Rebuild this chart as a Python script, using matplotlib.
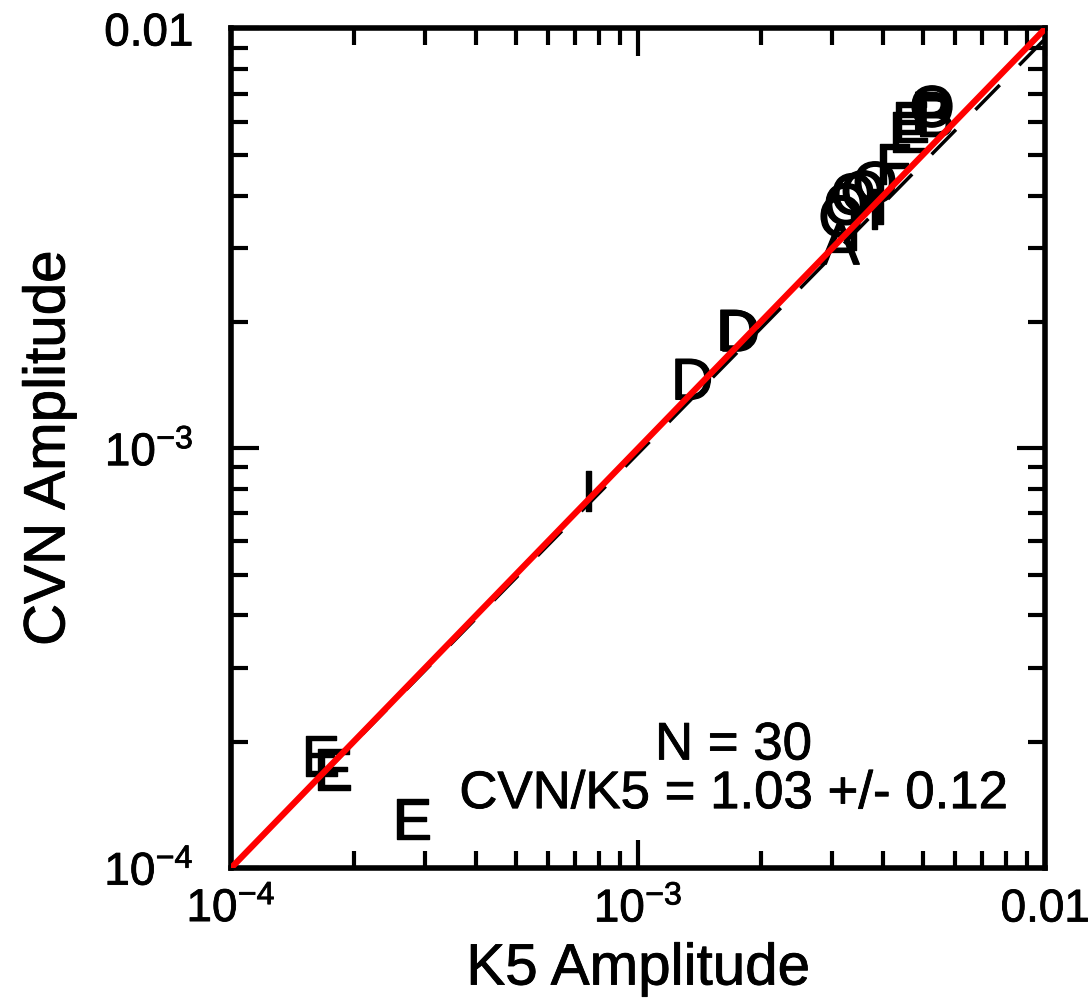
import numpy as np
import matplotlib
matplotlib.use('Agg')
from matplotlib import pyplot as plt
from matplotlib import patheffects as pe
from matplotlib.ticker import FixedLocator, FixedFormatter, LogLocator, NullFormatter

plt.rcParams['font.family'] = ['Liberation Sans', 'DejaVu Sans']
plt.rcParams['mathtext.fontset'] = 'custom'
plt.rcParams['mathtext.rm'] = 'Liberation Sans'
plt.rcParams['mathtext.it'] = 'Liberation Sans'

# symbol letters, K5 amplitude, CVN amplitude
labels = ['E', 'E', 'E', 'I', 'D', 'D', 'D',
          'A', 'O', 'O', 'O', 'O', 'O', 'I', 'I', 'I', 'F',
          'E', 'E', 'P', 'O', 'B']
k5 = [1.655e-4, 1.78e-4, 2.78e-4, 7.54e-4, 1.357e-3, 1.75e-3, 1.77e-3,
      3.13e-3, 3.15e-3, 3.24e-3, 3.375e-3, 3.57e-3, 3.82e-3, 3.375e-3, 3.80e-3, 3.93e-3, 4.23e-3,
      4.58e-3, 4.66e-3, 5.22e-3, 5.27e-3, 5.37e-3]
cvn = [1.80e-4, 1.67e-4, 1.27e-4, 7.69e-4, 1.42e-3, 1.858e-3, 1.85e-3,
       2.98e-3, 3.47e-3, 3.71e-3, 3.92e-3, 3.98e-3, 4.18e-3, 3.23e-3, 3.61e-3, 3.71e-3, 4.62e-3,
       5.50e-3, 5.81e-3, 6.14e-3, 6.34e-3, 6.0e-3]

n_pts = 30
ratio = 1.03
ratio_err = 0.12
# dashed fit line end points
fit_x = [1e-4, 1e-2]
fit_y = [1e-4, 0.946e-2]

bold = [pe.withStroke(linewidth=0.6, foreground='black')]

fig = plt.figure(figsize=(10.9, 10.03), dpi=100)
ax = fig.add_axes([0.212, 0.1336, 0.747, 0.837])
ax.set_xscale('log')
ax.set_yscale('log')
ax.set_xlim(1e-4, 1e-2)
ax.set_ylim(1e-4, 1e-2)

for lab, x, y in zip(labels, k5, cvn):
    ax.text(x, y, lab, fontsize=42, ha='center', va='center', color='black', zorder=2,
            path_effects=[pe.withStroke(linewidth=1.0, foreground='black')])

ax.plot(fit_x, fit_y, color='black', lw=2.5, dashes=(10, 8), zorder=3)
ax.plot([1e-4, 1e-2], [1e-4, 1e-2], color='red', lw=4.5, zorder=4, solid_capstyle='butt')

ax.text(0.617, 0.146, 'N = %d' % n_pts, transform=ax.transAxes, ha='center', va='center',
        fontsize=38, path_effects=bold)
ax.text(0.617, 0.088, 'CVN/K5 = %.2f +/- %.2f' % (ratio, ratio_err), transform=ax.transAxes,
        ha='center', va='center', fontsize=38, path_effects=bold)

ticks = [1e-4, 1e-3, 1e-2]
ticklabels = ['$10^{-4}$', '$10^{-3}$', '0.01']
for axis in (ax.xaxis, ax.yaxis):
    axis.set_major_locator(FixedLocator(ticks))
    axis.set_major_formatter(FixedFormatter(ticklabels))
    axis.set_minor_locator(LogLocator(base=10, subs=np.arange(2, 10)))
    axis.set_minor_formatter(NullFormatter())

ax.tick_params(which='both', direction='in', top=True, right=True, width=3, labelsize=33)
ax.tick_params(which='major', length=20)
ax.tick_params(axis='x', which='major', pad=14)
ax.tick_params(axis='y', which='major', pad=27)
ax.tick_params(which='minor', length=12)
for lbl in ax.get_xticklabels() + ax.get_yticklabels():
    lbl.set_path_effects(bold)
for s in ax.spines.values():
    s.set_linewidth(4)

ax.set_xlabel('K5 Amplitude', fontsize=42, labelpad=8, path_effects=bold)
ax.set_ylabel('CVN Amplitude', fontsize=42, labelpad=20, path_effects=bold)

fig.savefig('out.png', dpi=100)
